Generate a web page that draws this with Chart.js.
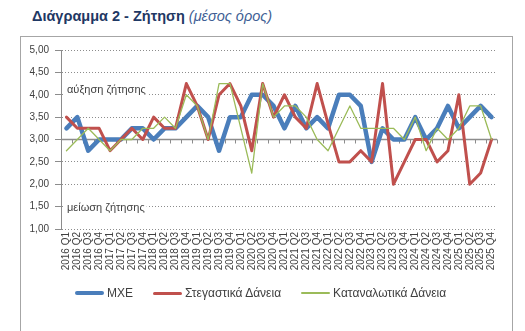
<!DOCTYPE html>
<html lang="el">
<head>
<meta charset="UTF-8">
<title>Διάγραμμα 2 - Ζήτηση</title>
<script src="https://cdn.jsdelivr.net/npm/chart.js"></script>
<style>
  body { margin: 0; background: #fff; font-family: "Liberation Sans", Arial, sans-serif; }
  #wrap { position: relative; width: 525px; height: 331px; overflow: hidden; }
  #title { position: absolute; left: 32px; top: 8px; font-size: 14.5px; font-weight: bold; color: #1f3864; white-space: nowrap; }
  #title span { font-weight: normal; font-style: italic; color: #3f5f95; }
  #frame { position: absolute; left: 20px; top: 36px; width: 491px; height: 300px; border: 1px solid #a6a6a6; border-bottom: none; }
  canvas { position: absolute; left: 0; top: 0; }
  #legend { position: absolute; left: 75px; top: 285px; display: flex; gap: 20px; font-size: 12px; color: #404040; white-space: nowrap; }
  .item { display: flex; align-items: center; height: 16px; }
  .line { display: inline-block; width: 29px; margin-right: 3px; }
</style>
</head>
<body>
<div id="wrap">
  <div id="frame"></div>
  <div id="title">Διάγραμμα 2 - Ζήτηση <span>(μέσος όρος)</span></div>
  <canvas id="chart" width="525" height="331"></canvas>
  <div id="legend"></div>
</div>

<script>
  // quarters 2016 Q1 .. 2025 Q4
  const quarters = [
    '2016 Q1','2016 Q2','2016 Q3','2016 Q4','2017 Q1','2017 Q2','2017 Q3','2017 Q4',
    '2018 Q1','2018 Q2','2018 Q3','2018 Q4','2019 Q1','2019 Q2','2019 Q3','2019 Q4',
    '2020 Q1','2020 Q2','2020 Q3','2020 Q4','2021 Q1','2021 Q2','2021 Q3','2021 Q4',
    '2022 Q1','2022 Q2','2022 Q3','2022 Q4','2023 Q1','2023 Q2','2023 Q3','2023 Q4',
    '2024 Q1','2024 Q2','2024 Q3','2024 Q4','2025 Q1','2025 Q2','2025 Q3','2025 Q4'
  ];

  const mxe = [
    3.25, 3.5, 2.75, 3.0, 3.0, 3.0, 3.25, 3.25,
    3.0, 3.25, 3.25, 3.5, 3.75, 3.5, 2.75, 3.5,
    3.5, 4.0, 4.0, 3.75, 3.25, 3.75, 3.25, 3.5,
    3.25, 4.0, 4.0, 3.75, 2.5, 3.25, 3.0, 3.0,
    3.5, 3.0, 3.25, 3.75, 3.25, 3.5, 3.75, 3.5
  ];

  const housingLoans = [
    3.5, 3.25, 3.25, 3.25, 2.75, 3.0, 3.25, 3.0,
    3.5, 3.25, 3.25, 4.25, 3.75, 3.0, 4.0, 4.25,
    3.75, 2.75, 4.25, 3.5, 4.0, 3.5, 3.25, 4.25,
    3.35, 2.5, 2.5, 2.75, 2.5, 4.25, 2.0, 2.5,
    3.0, 3.0, 2.5, 2.75, 4.0, 2.0, 2.25, 3.0
  ];

  const consumerLoans = [
    2.75, 3.0, 3.25, 3.0, 2.75, 3.0, 3.0, 3.25,
    3.25, 3.5, 3.25, 4.0, 3.75, 3.0, 4.25, 4.25,
    3.25, 2.25, 4.25, 3.5, 3.75, 3.75, 3.5, 3.0,
    2.75, 3.25, 3.75, 3.25, 3.25, 3.25, 3.25, 3.0,
    3.5, 2.75, 3.25, 3.0, 3.25, 3.75, 3.75, 3.0
  ];

  const seriesNames = ['MXE', 'Στεγαστικά Δάνεια', 'Καταναλωτικά Δάνεια'];
  const seriesColors = ['#4a7ebb', '#c0504d', '#9bbb59'];
  const seriesWidths = [4.5, 3, 1.3];

  const yMin = 1, yMax = 5, yStep = 0.5, axisCross = 3;
  const noteUp = 'αύξηση ζήτησης';
  const noteDown = 'μείωση ζήτησης';

  // legend
  const legend = document.getElementById('legend');
  seriesNames.forEach((name, i) => {
    const item = document.createElement('div');
    item.className = 'item';
    const line = document.createElement('span');
    line.className = 'line';
    line.style.height = seriesWidths[i] + 'px';
    line.style.background = seriesColors[i];
    line.style.borderRadius = '2px';
    item.appendChild(line);
    item.appendChild(document.createTextNode(name));
    legend.appendChild(item);
  });

  // x axis crosses at 3,00 + text notes
  const crossAxis = {
    id: 'crossAxis',
    beforeDatasetsDraw(chart) {
      const { ctx, chartArea, scales } = chart;
      const x = scales.x, y = scales.y;
      const y0 = y.getPixelForValue(axisCross);
      ctx.save();

      ctx.font = '11px "Liberation Sans", Arial, sans-serif';
      ctx.textBaseline = 'middle';
      [[noteUp, 4.1], [noteDown, 1.47]].forEach(([txt, v]) => {
        const py = y.getPixelForValue(v);
        const w = ctx.measureText(txt).width;
        ctx.fillStyle = '#fff';
        ctx.fillRect(chartArea.left + 4, py - 7, w + 4, 14);
        ctx.fillStyle = '#404040';
        ctx.fillText(txt, chartArea.left + 6, py);
      });

      ctx.strokeStyle = '#8c8c8c';
      ctx.lineWidth = 1.5;
      ctx.beginPath();
      ctx.moveTo(chartArea.left, y0);
      ctx.lineTo(chartArea.right, y0);
      ctx.stroke();
      ctx.lineWidth = 1;
      const n = quarters.length;
      for (let i = 1; i <= n; i++) {
        const px = Math.round(chartArea.left + i * (chartArea.right - chartArea.left) / n) + 0.5;
        ctx.beginPath();
        ctx.moveTo(px, y0);
        ctx.lineTo(px, y0 + 4);
        ctx.stroke();
      }
      ctx.restore();
    }
  };

  const makeSet = (i, data, order) => ({
    label: seriesNames[i],
    data: data,
    borderColor: seriesColors[i],
    backgroundColor: seriesColors[i],
    borderWidth: seriesWidths[i],
    pointRadius: 0,
    tension: 0,
    borderJoinStyle: 'round',
    borderCapStyle: 'round',
    order: order
  });

  new Chart(document.getElementById('chart'), {
    type: 'line',
    data: {
      labels: quarters,
      datasets: [
        makeSet(0, mxe, 2),
        makeSet(1, housingLoans, 1),
        makeSet(2, consumerLoans, 0)
      ]
    },
    options: {
      responsive: false,
      animation: false,
      layout: { padding: { left: 20, right: 28, top: 50, bottom: 54 } },
      plugins: {
        legend: { display: false },
        tooltip: { enabled: false }
      },
      scales: {
        x: {
          offset: true,
          grid: { display: false, drawTicks: false },
          border: { display: false },
          ticks: {
            autoSkip: false,
            minRotation: 90,
            maxRotation: 90,
            padding: 3,
            color: '#404040',
            font: { size: 10, family: '"Liberation Sans", Arial, sans-serif' }
          },
          afterFit: s => { s.height = 48; }
        },
        y: {
          min: yMin,
          max: yMax,
          ticks: {
            stepSize: yStep,
            padding: 6,
            color: '#404040',
            font: { size: 10, family: '"Liberation Sans", Arial, sans-serif' },
            callback: v => v.toFixed(2).replace('.', ',')
          },
          grid: {
            color: ctx => (ctx.tick && ctx.tick.value === axisCross) ? 'rgba(0,0,0,0)' : '#8c8c8c',
            tickColor: '#8c8c8c',
            tickLength: 6,
            tickBorderDash: [],
            lineWidth: 1
          },
          border: { display: true, color: '#8c8c8c', width: 1, dash: [1, 2] },
          afterFit: s => { s.width = 41; }
        }
      }
    },
    plugins: [crossAxis]
  });
</script>
</body>
</html>
